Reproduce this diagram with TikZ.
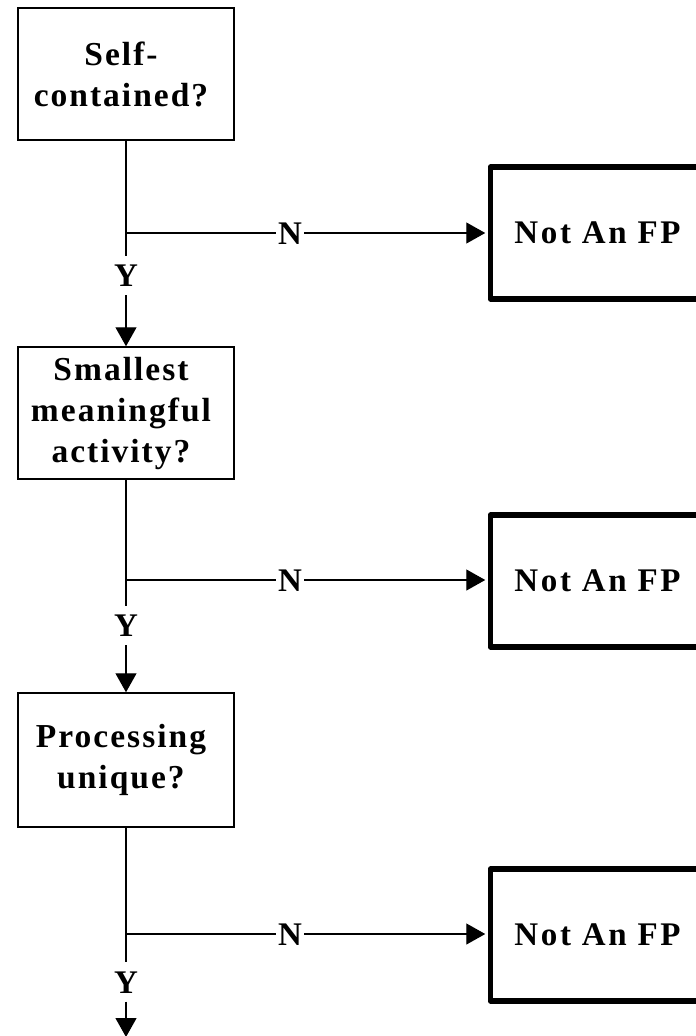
\documentclass[tikz,border=0pt]{standalone}
\usepackage{fontspec}
\setmainfont{Liberation Serif}
\newfontfamily\qfont{Liberation Serif}[LetterSpace=6]
\newfontfamily\ffont{Liberation Serif}[LetterSpace=8]
\usetikzlibrary{arrows.meta}
\begin{document}
\begin{tikzpicture}[x=1pt,y=-1pt,
  qbox/.style={draw, line width=1.5pt, minimum width=216pt, inner sep=0pt},
  qtext/.style={inner sep=0pt, align=center,
    font=\qfont\bfseries\fontsize{33.5}{41}\selectfont},
  fpbox/.style={draw, line width=5.5pt, line join=round, minimum width=214pt, minimum height=132pt,
    inner sep=0pt, align=center, font=\ffont\bfseries\fontsize{33}{41}\selectfont},
  lbl/.style={inner sep=0pt, text height=22pt, text depth=0pt, minimum height=39pt,
    font=\bfseries\fontsize{33}{33}\selectfont},
  nlbl/.style={inner sep=0pt, text height=22pt, text depth=0pt, inner xsep=2pt,
    font=\bfseries\fontsize{33}{33}\selectfont},
  link/.style={line width=1.3pt},
  arr/.style={line width=1.3pt, -{Triangle[length=19pt,width=21pt]}}
]
\useasboundingbox (0,0) rectangle (696,1036);

% question boxes
\node[qbox, minimum height=132pt] (q1) at (126,74) {};
\node[qtext] (q1t) at (121,74) {Self-\\contained?};
\node[qbox, minimum height=132pt] (q2) at (126,413) {};
\node[qtext] (q2t) at (121,413) {Smallest\\meaningful\\activity?};
\node[qbox, minimum height=134pt] (q3) at (126,760) {};
\node[qtext] (q3t) at (121,760) {Processing\\unique?};

% Not An FP boxes
\node[fpbox] (f1) at (597.5,233) {Not An FP};
\node[fpbox] (f2) at (597.5,581) {Not An FP};
\node[fpbox] (f3) at (597.5,935) {Not An FP};

% Y labels
\node[lbl] (y1) at (126,275.5) {Y};
\node[lbl] (y2) at (126,625.5) {Y};
\node[lbl] (y3) at (126,982) {Y};

% N labels
\node[nlbl] (n1) at (290,233) {N};
\node[nlbl] (n2) at (290,580) {N};
\node[nlbl] (n3) at (290,934) {N};

% branch points and end
\coordinate (b1) at (126,233);
\coordinate (b2) at (126,580);
\coordinate (b3) at (126,934);
\coordinate (end) at (126,1037);

% vertical flow
\draw[link] (q1) -- (y1);
\draw[arr] (y1) -- (q2);
\draw[link] (q2) -- (y2);
\draw[arr] (y2) -- (q3);
\draw[link] (q3) -- (y3);
\draw[arr] (y3) -- (end);

% branches
\draw[link] (b1) -- (n1);
\draw[arr, shorten >=2.5pt] (n1) -- (n1 -| f1.west);
\draw[link] (b2) -- (n2);
\draw[arr, shorten >=2.5pt] (n2) -- (n2 -| f2.west);
\draw[link] (b3) -- (n3);
\draw[arr, shorten >=2.5pt] (n3) -- (n3 -| f3.west);
\end{tikzpicture}
\end{document}
